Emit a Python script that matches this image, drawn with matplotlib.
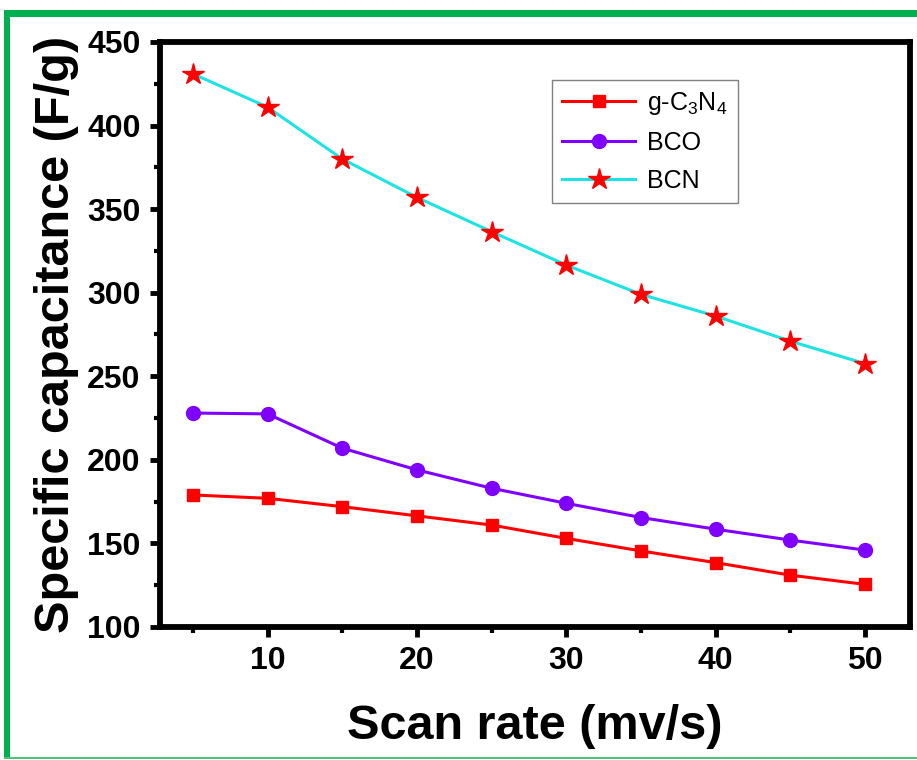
import matplotlib
matplotlib.use("Agg")
import matplotlib.pyplot as plt
from matplotlib.patches import Rectangle
from matplotlib.ticker import MultipleLocator

plt.rcParams['font.family'] = ['Liberation Sans', 'DejaVu Sans']
plt.rcParams['mathtext.fontset'] = 'custom'
plt.rcParams['mathtext.rm'] = 'Liberation Sans'
plt.rcParams['mathtext.it'] = 'Liberation Sans:italic'
plt.rcParams['mathtext.bf'] = 'Liberation Sans:bold'

scan_rate = [5, 10, 15, 20, 25, 30, 35, 40, 45, 50]
g_c3n4 = [179, 177, 172, 166.5, 161, 153, 145.5, 138.5, 131, 125.5]
bco = [228, 227.5, 207, 194, 183, 174, 165.5, 158.5, 152, 146]
bcn = [431, 411, 380, 357, 336.5, 316.5, 299, 286, 271, 257.5]
labels = ['g-C$_3$N$_4$', 'BCO', 'BCN']

fig = plt.figure(figsize=(9.17, 7.6), dpi=100)
ax = fig.add_axes([160/917, 1-627/760, 750/917, 585/760])

ax.plot(scan_rate, g_c3n4, color='#ff0000', lw=2.2, marker='s', ms=9,
        mfc='#ff0000', mec='#ff0000', label=labels[0])
ax.plot(scan_rate, bco, color='#7f00ff', lw=2.2, marker='o', ms=10,
        mfc='#7f00ff', mec='#7f00ff', label=labels[1])
ax.plot(scan_rate, bcn, color='#1ee3e3', lw=2.2, marker='*', ms=16,
        mfc='#ff0000', mec='#ff0000', label=labels[2])

ax.set_xlim(2.8, 53)
ax.set_ylim(100, 450)
ax.xaxis.set_major_locator(MultipleLocator(10))
ax.xaxis.set_minor_locator(MultipleLocator(5))
ax.yaxis.set_major_locator(MultipleLocator(50))
ax.yaxis.set_minor_locator(MultipleLocator(25))

for s in ax.spines.values():
    s.set_linewidth(4.2)
ax.tick_params(which='major', direction='out', length=7, width=3.5,
               labelsize=23, pad=7)
ax.tick_params(which='minor', direction='out', length=4, width=3)
for lab in ax.get_xticklabels() + ax.get_yticklabels():
    lab.set_fontweight('bold')

ax.set_xlabel('Scan rate (mv/s)', fontsize=35, fontweight='bold', labelpad=20)
ax.set_ylabel('Specific capacitance (F/g)', fontsize=35, fontweight='bold', labelpad=6)

leg = ax.legend(loc='upper left', bbox_to_anchor=(0.523, 0.935), borderaxespad=0,
                fontsize=18, handlelength=2.9, handletextpad=0.5,
                labelspacing=0.55, borderpad=0.4, fancybox=False,
                edgecolor='#808080', framealpha=1)
leg.get_frame().set_linewidth(1.0)

# green border
green = '#00b050'
fig.patches.append(Rectangle((4/917, 1-17/760), 913/917, 7/760, transform=fig.transFigure,
                             facecolor=green, edgecolor='none', zorder=10))
fig.patches.append(Rectangle((4/917, 3/760), 6/917, (757-17)/760, transform=fig.transFigure,
                             facecolor=green, edgecolor='none', zorder=10))
fig.patches.append(Rectangle((4/917, 1/760), 913/917, 2/760, transform=fig.transFigure,
                             facecolor='#4cc47a', edgecolor='none', zorder=10))

fig.savefig('out.png', dpi=100)
